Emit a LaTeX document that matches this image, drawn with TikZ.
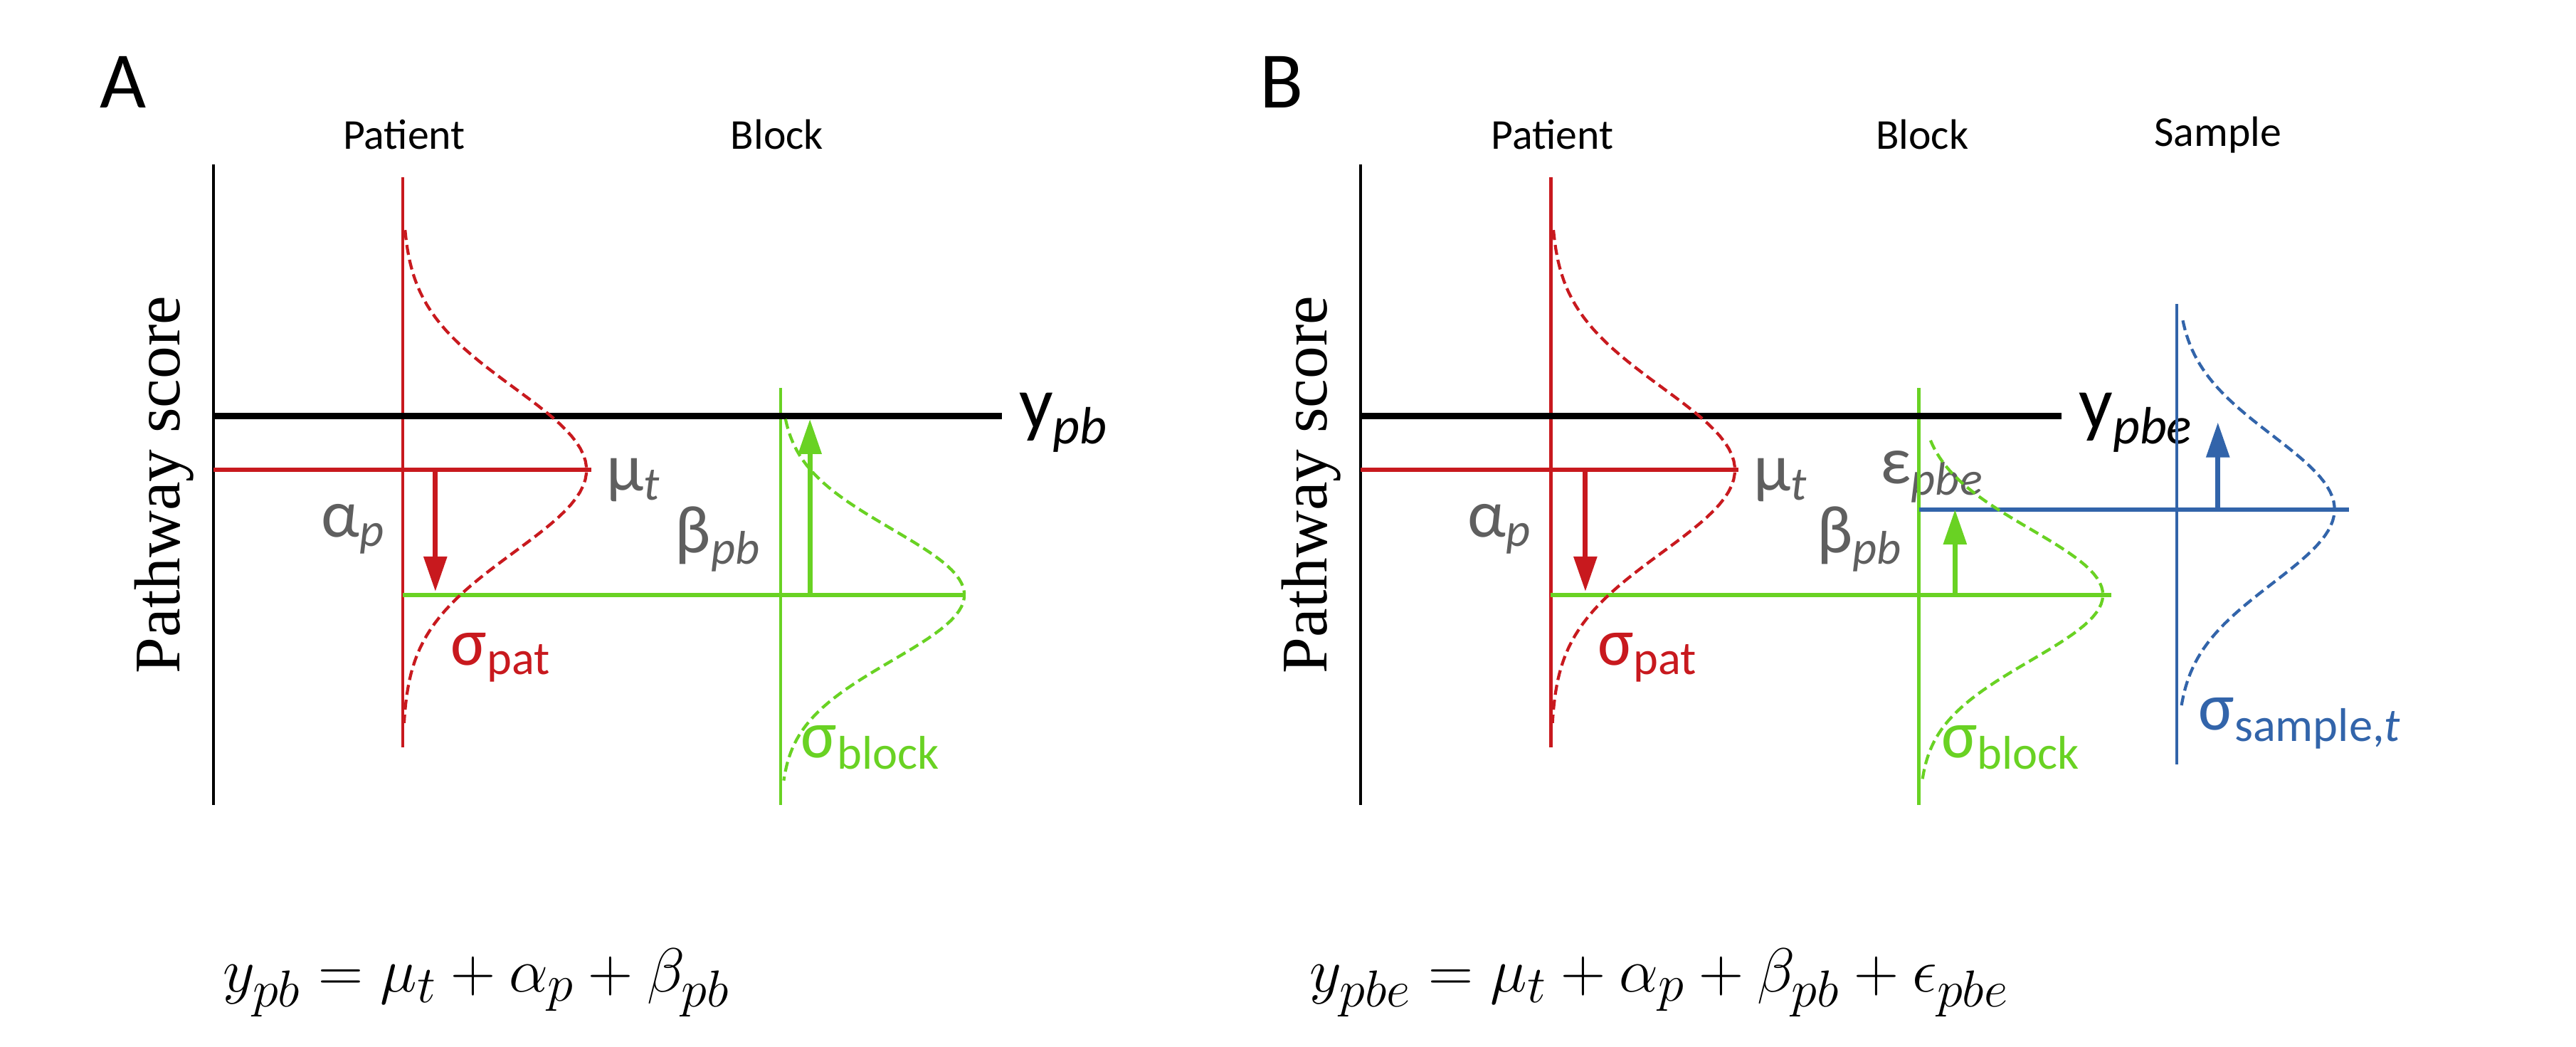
\documentclass[tikz,border=0pt]{standalone}
\usepackage{fontspec}
\setmainfont{Carlito}
\newfontfamily\axisfont{Liberation Serif}
\usetikzlibrary{arrows.meta}
\definecolor{patred}{RGB}{200,25,30}
\definecolor{blkgreen}{RGB}{105,210,35}
\definecolor{smpblue}{RGB}{50,100,170}
\definecolor{lblgray}{RGB}{95,95,95}
\begin{document}
\begin{tikzpicture}[x=0.02309cm,y=-0.02309cm]
    \tikzset{head/.style = {font=\fontsize{17}{19}\selectfont}}
    \tikzset{greek/.style = {font=\fontsize{27}{30}\selectfont, text=lblgray}}
    \tikzset{sigma/.style = {font=\fontsize{27}{30}\selectfont}}
    \tikzset{edge/.style = {-{Triangle[length=14pt,width=9pt]}, line width=2pt}}
    \tikzset{gauss/.style = {dashed, dash pattern=on 4pt off 2pt, line width=1.2pt, samples=80}}
    \tikzset{eq/.style = {font=\fontsize{31}{34}\selectfont}}
    \useasboundingbox (0,0) rectangle (1568,637);

    % panel A
    \node[font=\fontsize{32}{34}\selectfont] (labA) at (75,50) {A};
    \node[head] (patA) at (246,82) {Patient};
    \node[head] (blkA) at (473,82) {Block};
    \node[rotate=90, font=\axisfont\fontsize{26}{28}\selectfont] (scoreA) at (100,295) {Pathway score};
    \coordinate (axA1) at (130,100); \coordinate (axA2) at (130,490);
    \coordinate (patA1) at (245,108); \coordinate (patA2) at (245,455);
    \coordinate (blkA1) at (475,236); \coordinate (blkA2) at (475,490);
    \coordinate (yA1) at (130,253); \coordinate (yA2) at (610,253);
    \node[font=\fontsize{30}{32}\selectfont, anchor=west] (yA) at (615,257) {y\textsubscript{\textit{pb}}};
    \coordinate (muA1) at (130,286); \coordinate (muA2) at (360,286);
    \node[greek, anchor=west] (muA) at (364,292) {μ\textsubscript{\textit{t}}};
    \coordinate (grA1) at (245,362); \coordinate (grA2) at (587,362);
    \coordinate (aA1) at (265,286); \coordinate (aA2) at (265,360);
    \coordinate (bA1) at (493,362); \coordinate (bA2) at (493,255);
    \node[greek] (alA) at (215,322) {α\textsubscript{\textit{p}}};
    \node[greek] (beA) at (437,328) {β\textsubscript{\textit{pb}}};
    \node[sigma, text=patred] (spA) at (305,400) {σ\textsubscript{pat}};
    \node[sigma, text=blkgreen] (sbA) at (530,455) {σ\textsubscript{block}};
    \draw[line width=1.2pt] (axA1) -- (axA2);
    \draw[patred, line width=1.2pt] (patA1) -- (patA2);
    \draw[blkgreen, line width=1.2pt] (blkA1) -- (blkA2);
    \draw[line width=2.5pt] (yA1) -- (yA2);
    \draw[patred, line width=1.8pt] (muA1) -- (muA2);
    \draw[blkgreen, line width=1.8pt] (grA1) -- (grA2);
    \draw[edge, patred] (aA1) -- (aA2);
    \draw[edge, blkgreen] (bA1) -- (bA2);
    \draw[gauss, patred, domain=140:440] plot ({245+112*exp(-((\x-286)/50)^2/2)}, \x);
    \draw[gauss, blkgreen, domain=255:475] plot ({475+112*exp(-((\x-362)/40)^2/2)}, \x);
    \node[eq] (eqA) at (290,598) {$y_{pb} = \mu_t + \alpha_p + \beta_{pb}$};

    % panel B
    \node[font=\fontsize{32}{34}\selectfont] (labB) at (780,50) {B};
    \node[head] (patB) at (945,82) {Patient};
    \node[head] (blkB) at (1170,82) {Block};
    \node[head] (smpB) at (1350,82) {Sample};
    \node[rotate=90, font=\axisfont\fontsize{26}{28}\selectfont] (scoreB) at (798,295) {Pathway score};
    \coordinate (axB1) at (828,100); \coordinate (axB2) at (828,490);
    \coordinate (patB1) at (944,108); \coordinate (patB2) at (944,455);
    \coordinate (blkB1) at (1168,236); \coordinate (blkB2) at (1168,490);
    \coordinate (smpB1) at (1325,185); \coordinate (smpB2) at (1325,465);
    \coordinate (yB1) at (828,253); \coordinate (yB2) at (1255,253);
    \node[font=\fontsize{30}{32}\selectfont, anchor=west] (yB) at (1260,257) {y\textsubscript{\textit{pbe}}};
    \coordinate (muB1) at (828,286); \coordinate (muB2) at (1058,286);
    \node[greek, anchor=west] (muB) at (1062,292) {μ\textsubscript{\textit{t}}};
    \coordinate (grB1) at (944,362); \coordinate (grB2) at (1285,362);
    \coordinate (blB1) at (1168,310); \coordinate (blB2) at (1430,310);
    \coordinate (aB1) at (965,286); \coordinate (aB2) at (965,360);
    \coordinate (bB1) at (1190,362); \coordinate (bB2) at (1190,310);
    \coordinate (eB1) at (1350,310); \coordinate (eB2) at (1350,257);
    \node[greek] (alB) at (913,322) {α\textsubscript{\textit{p}}};
    \node[greek] (beB) at (1132,328) {β\textsubscript{\textit{pb}}};
    \node[greek] (epB) at (1176,290) {ε\textsubscript{\textit{pbe}}};
    \node[sigma, text=patred] (spB) at (1003,400) {σ\textsubscript{pat}};
    \node[sigma, text=blkgreen] (sbB) at (1224,455) {σ\textsubscript{block}};
    \node[sigma, text=smpblue] (ssB) at (1400,440) {σ\textsubscript{sample,\textit{t}}};
    \draw[line width=1.2pt] (axB1) -- (axB2);
    \draw[patred, line width=1.2pt] (patB1) -- (patB2);
    \draw[blkgreen, line width=1.2pt] (blkB1) -- (blkB2);
    \draw[smpblue, line width=1.2pt] (smpB1) -- (smpB2);
    \draw[line width=2.5pt] (yB1) -- (yB2);
    \draw[patred, line width=1.8pt] (muB1) -- (muB2);
    \draw[blkgreen, line width=1.8pt] (grB1) -- (grB2);
    \draw[smpblue, line width=1.8pt] (blB1) -- (blB2);
    \draw[edge, patred] (aB1) -- (aB2);
    \draw[edge, blkgreen] (bB1) -- (bB2);
    \draw[edge, smpblue] (eB1) -- (eB2);
    \draw[gauss, patred, domain=140:440] plot ({944+112*exp(-((\x-286)/50)^2/2)}, \x);
    \draw[gauss, blkgreen, domain=268:475] plot ({1168+112*exp(-((\x-362)/40)^2/2)}, \x);
    \draw[gauss, smpblue, domain=195:430] plot ({1325+96*exp(-((\x-310)/45)^2/2)}, \x);
    \node[eq] (eqB) at (1010,598) {$y_{pbe} = \mu_t + \alpha_p + \beta_{pb} + \epsilon_{pbe}$};
\end{tikzpicture}
\end{document}
